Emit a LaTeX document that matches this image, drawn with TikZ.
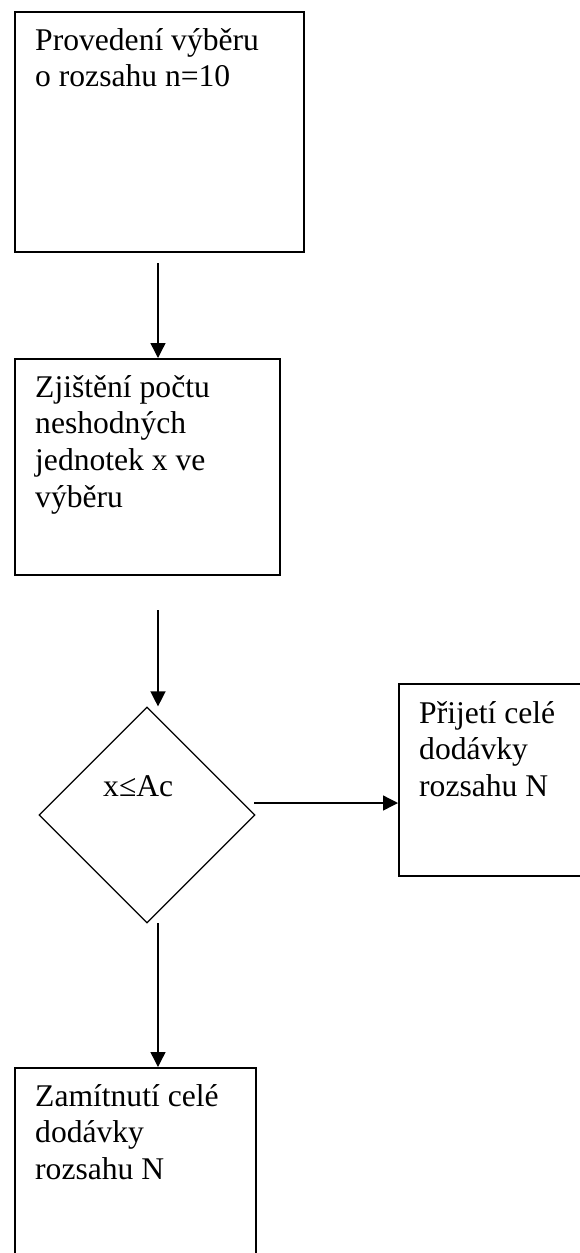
\documentclass[tikz,border=0pt]{standalone}
\usepackage{fontspec}
\setmainfont{Liberation Serif}
\usetikzlibrary{shapes.geometric,arrows.meta,calc}
\newcommand\fsz{\fontsize{31.6}{36.7}\selectfont}
\tikzset{
  box/.style={draw, line width=1.8pt, inner sep=0pt, anchor=north west},
  lbl/.style={font=\fsz, align=left, inner sep=0pt, anchor=north west},
  arr/.style={line width=1.4pt, -{Triangle[length=15pt,width=15pt]}},
  decision/.style={diamond, draw, line width=1.2pt, inner sep=0pt, minimum width=216pt, minimum height=216pt},
}
\begin{document}
\begin{tikzpicture}[x=1pt,y=-1pt]
\useasboundingbox (0,0) rectangle (580,1253);
% boxes
\node[box, minimum width=289pt, minimum height=240pt] (b1) at (14,11) {};
\node[box, minimum width=265pt, minimum height=216pt] (b2) at (14,358) {};
\node[decision] (d) at (147,815) {};
\node[box, minimum width=186pt, minimum height=192pt] (b3) at (398,683) {};
\node[box, minimum width=241pt, minimum height=200pt] (b4) at (14,1067) {};
% texts
\node[lbl] (t1) at (35,24.3) {\strut Provedení výběru\\o rozsahu n=10};
\node[lbl] (t2) at (35,371.3) {\strut Zjištění počtu\\neshodných\\jednotek x ve\\výběru};
\node[lbl] (t3) at (419,697.3) {\strut Přijetí celé\\dodávky\\rozsahu N};
\node[lbl] (t4) at (35,1080.3) {\strut Zamítnutí celé\\dodávky\\rozsahu N};
\node[lbl] (td) at (103,770.3) {\strut x≤Ac};
% connectors
\coordinate (s1) at (158,263);
\coordinate (s2) at (158,610);
\coordinate (s3) at (254,803);
\coordinate (s4) at (158,923);
\draw[arr] (s1) -- (s1 |- b2.north);
\draw[arr] (s2) -- (s2 |- d.north);
\draw[arr] (s3) -- (s3 -| b3.west);
\draw[arr] (s4) -- (s4 |- b4.north);
\end{tikzpicture}
\end{document}
